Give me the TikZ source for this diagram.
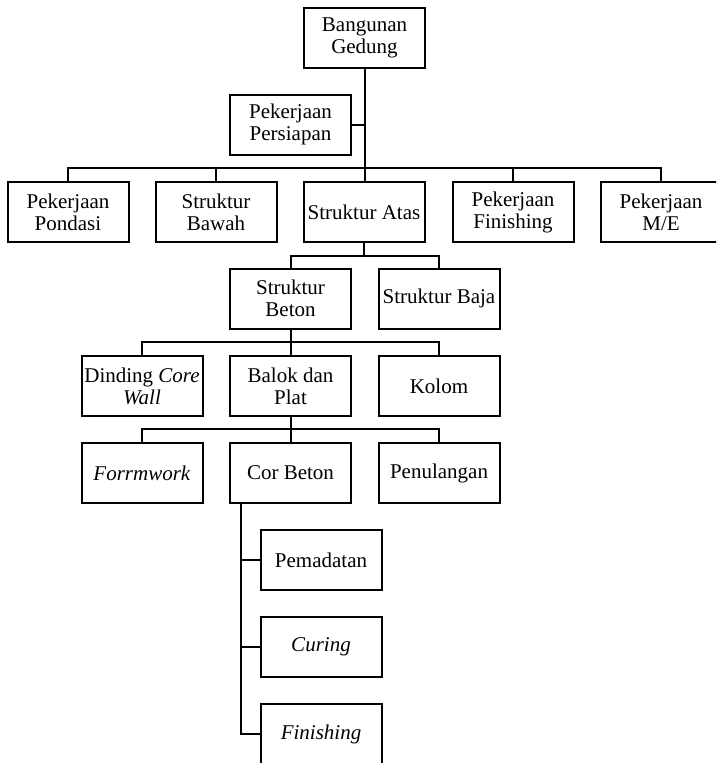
\documentclass[tikz,border=0pt]{standalone}
\usepackage{fontspec}
\setmainfont{Liberation Serif}
\usepackage{tikz}

\begin{document}
\begin{tikzpicture}[x=1pt,y=-1pt,
  every node/.style={font=\fontsize{21}{22}\selectfont},
  box/.style={draw,line width=2pt,minimum width=121pt,minimum height=60pt,
    inner sep=2pt,align=center},
  link/.style={line width=2pt}]
  \useasboundingbox (0,0) rectangle (716,763);
  \clip (0,0) rectangle (716,763);
  % boxes
  \node[box] (top)  at (364.5,38)  {Bangunan\\Gedung};
  \node[box] (prep) at (290.5,124.5) {Pekerjaan\\Persiapan};
  \node[box] (pond) at (68,212)   {Pekerjaan\\Pondasi};
  \node[box] (bawah) at (216,212) {Struktur\\Bawah};
  \node[box] (atas) at (364,212)  {Struktur Atas};
  \node[box] (fins) at (513,212)  {Pekerjaan\\Finishing};
  \node[box] (me)   at (661,212)  {Pekerjaan\\M/E};
  \node[box] (beton) at (290.5,298.5) {Struktur\\Beton};
  \node[box] (baja) at (439,298.5) {Struktur Baja};
  \node[box] (core) at (142,386)  {Dinding \textit{Core}\\\textit{Wall}};
  \node[box] (balok) at (290.5,386) {Balok dan\\Plat};
  \node[box] (kolom) at (439,386) {Kolom};
  \node[box] (form) at (142,473)  {\textit{Forrmwork}};
  \node[box] (cor)  at (290.5,473) {Cor Beton};
  \node[box] (penul) at (439,473) {Penulangan};
  \node[box] (pema) at (321,560)  {Pemadatan};
  \node[box] (curi) at (321,646.5) {\textit{Curing}};
  \node[box] (fini) at (321,734)  {\textit{Finishing}};
  % connectors
  \coordinate (bus1) at (0,168);
  \coordinate (bus2) at (0,256);
  \coordinate (bus3) at (0,342);
  \coordinate (bus4) at (0,429);
  \coordinate (leg) at (241,504);
  \draw[link] (top.south) -- (top.south |- atas.north);
  \draw[link] (prep.east) -- (prep.east -| top.south);
  \draw[link] (pond.north) |- (bus1 -| me.north) -- (me.north);
  \foreach \n in {bawah,fins}
    \draw[link] (\n.north) -- (\n.north |- bus1);
  \draw[link] (atas.south) -- (atas.south |- bus2);
  \draw[link] (beton.north) |- (bus2 -| baja.north) -- (baja.north);
  \draw[link] (beton.south) -- (beton.south |- bus3);
  \draw[link] (core.north) |- (bus3 -| kolom.north) -- (kolom.north);
  \draw[link] (balok.north) -- (balok.north |- bus3);
  \draw[link] (balok.south) -- (balok.south |- bus4);
  \draw[link] (form.north) |- (bus4 -| penul.north) -- (penul.north);
  \draw[link] (cor.north) -- (cor.north |- bus4);
  \draw[link] (leg) |- (fini.west);
  \foreach \n in {pema,curi}
    \draw[link] (\n.west) -- (\n.west -| leg);
\end{tikzpicture}
\end{document}
